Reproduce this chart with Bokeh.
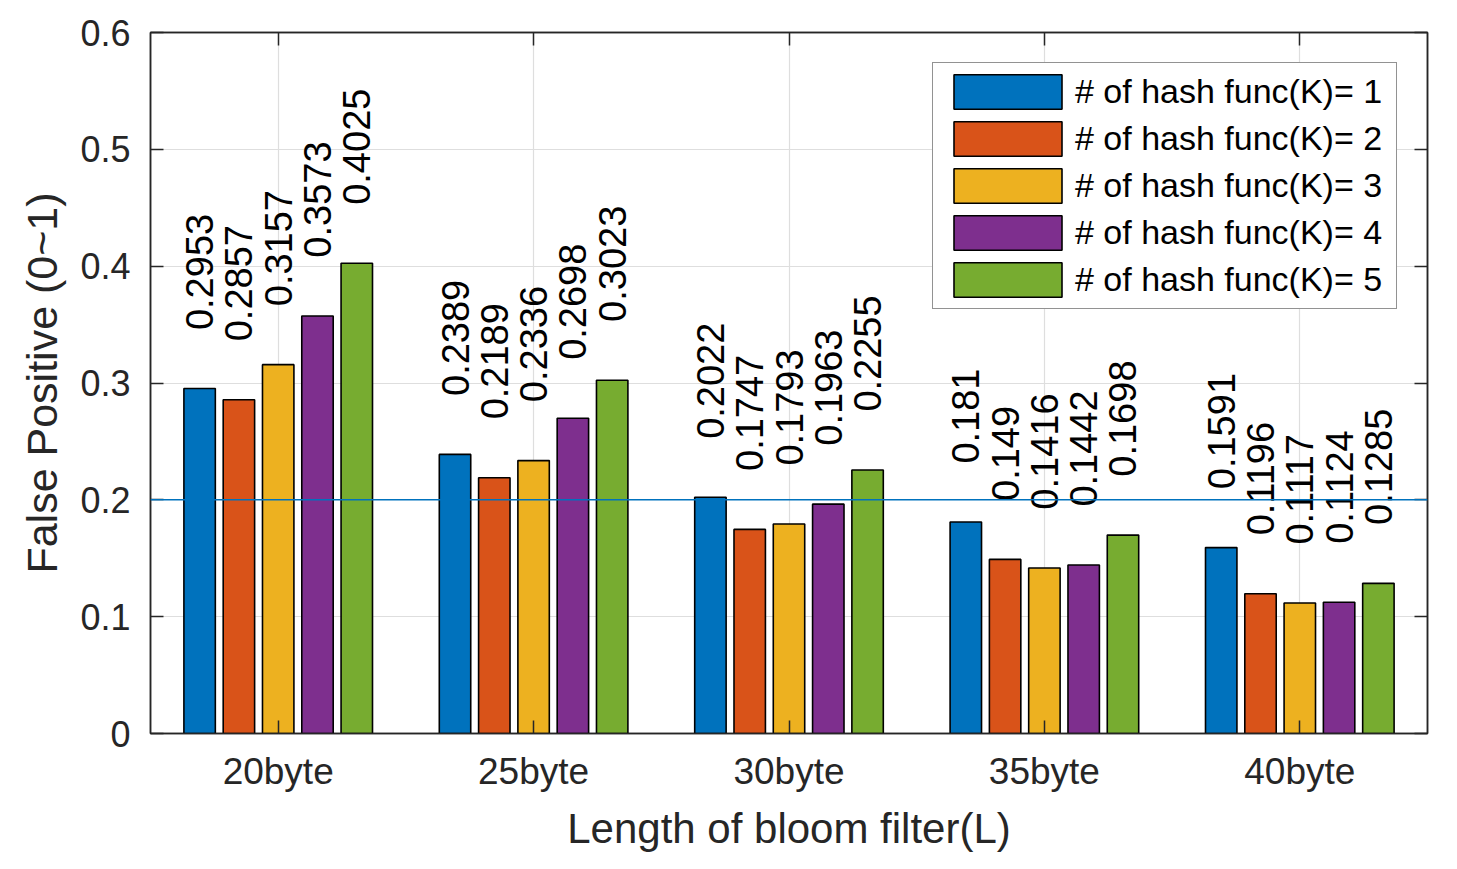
import math
from bokeh.plotting import figure
from bokeh.models import (ColumnDataSource, FixedTicker, LinearAxis, Span,
                          Legend, LegendItem, Range1d)
from bokeh.embed import file_html
from bokeh.resources import INLINE
from bokeh.core.properties import value

# ---------------- data ----------------
categories = ["20byte", "25byte", "30byte", "35byte", "40byte"]
series_labels = ["# of hash func(K)= 1", "# of hash func(K)= 2",
                 "# of hash func(K)= 3", "# of hash func(K)= 4",
                 "# of hash func(K)= 5"]
fp_k1 = [0.2953, 0.2389, 0.2022, 0.181, 0.1591]
fp_k2 = [0.2857, 0.2189, 0.1747, 0.149, 0.1196]
fp_k3 = [0.3157, 0.2336, 0.1793, 0.1416, 0.1117]
fp_k4 = [0.3573, 0.2698, 0.1963, 0.1442, 0.1124]
fp_k5 = [0.4025, 0.3023, 0.2255, 0.1698, 0.1285]
threshold = 0.2
y_ticks = [0, 0.1, 0.2, 0.3, 0.4, 0.5, 0.6]
y_tick_labels = ["0", "0.1", "0.2", "0.3", "0.4", "0.5", "0.6"]
x_ticks = [1, 2, 3, 4, 5]

series = [fp_k1, fp_k2, fp_k3, fp_k4, fp_k5]
colors = ["#0072BD", "#D95319", "#EDB120", "#7E2F8E", "#77AC30"]

FONT = "Liberation Sans"
AX = "#262626"

n = len(series)
group_w = min(0.8, n / (n + 1.5))
step = group_w / n
bar_w = step * 0.8
label_gap = 0.05

p = figure(width=1449, height=861, output_backend="svg", toolbar_location=None,
           x_range=Range1d(0.5, 5.5), y_range=Range1d(0, 0.6),
           min_border_left=150, min_border_top=32, min_border_right=22,
           min_border_bottom=128)
p.background_fill_color = "white"
p.border_fill_color = "white"
p.outline_line_color = AX
p.outline_line_width = 1.5

items = []
for k, vals in enumerate(series):
    xs = [x_ticks[i] + (k - (n - 1) / 2) * step for i in range(len(vals))]
    src = ColumnDataSource(dict(x=xs, top=vals,
                                ylab=[v + label_gap for v in vals],
                                txt=[str(v) for v in vals]))
    r = p.vbar(x="x", top="top", bottom=0, width=bar_w, source=src,
               fill_color=colors[k], line_color="black", line_width=1.6)
    p.text(x="x", y="ylab", text="txt", source=src, angle=math.pi / 2,
           text_align="left", text_baseline="middle",
           text_font=value(FONT), text_font_size="38px", text_color="black")
    items.append(LegendItem(label=series_labels[k], renderers=[r]))

p.add_layout(Span(location=threshold, dimension="width",
                  line_color="#0072BD", line_width=1.5))

legend = Legend(items=items, location="top_right", margin=30, padding=7,
                glyph_width=135, glyph_height=43, spacing=4,
                label_standoff=-4, label_width=314,
                label_text_font=FONT, label_text_font_size="34px",
                label_text_color="black",
                border_line_color=AX, border_line_width=1.5,
                background_fill_color="white", background_fill_alpha=1.0)
p.add_layout(legend)


def style_axis(ax):
    ax.axis_line_color = AX
    ax.axis_line_width = 1.5
    ax.major_tick_line_color = AX
    ax.major_tick_line_width = 1.5
    ax.major_tick_in = 13
    ax.major_tick_out = 0
    ax.minor_tick_line_color = None
    ax.major_label_text_font = FONT
    ax.major_label_text_color = AX
    ax.axis_label_text_font = FONT
    ax.axis_label_text_color = AX
    ax.axis_label_text_font_style = "normal"


# x axis (bottom)
xa = p.xaxis[0]
xa.ticker = FixedTicker(ticks=x_ticks)
xa.major_label_overrides = {t: c for t, c in zip(x_ticks, categories)}
style_axis(xa)
xa.major_label_text_font_size = "37px"
xa.major_label_standoff = 17
xa.axis_label = "Length of bloom filter(L)"
xa.axis_label_text_font_size = "42px"
xa.axis_label_standoff = 10

# y axis (left)
ya = p.yaxis[0]
ya.ticker = FixedTicker(ticks=y_ticks)
ya.major_label_overrides = {t: s for t, s in zip(y_ticks, y_tick_labels)}
style_axis(ya)
ya.major_label_text_font_size = "36px"
ya.major_label_standoff = 20
ya.axis_label = "False Positive (0~1)"
ya.axis_label_text_font_size = "43px"
ya.axis_label_standoff = 11

# mirrored axes (top / right) with inward ticks only
top_ax = LinearAxis(ticker=FixedTicker(ticks=x_ticks),
                    major_label_overrides={t: "" for t in x_ticks})
style_axis(top_ax)
top_ax.major_label_standoff = 0
p.add_layout(top_ax, "above")
right_ax = LinearAxis(ticker=FixedTicker(ticks=y_ticks),
                      major_label_overrides={t: "" for t in y_ticks})
style_axis(right_ax)
right_ax.major_label_standoff = 0
p.add_layout(right_ax, "right")

p.xgrid.ticker = FixedTicker(ticks=x_ticks)
p.ygrid.ticker = FixedTicker(ticks=y_ticks)
for g in (p.xgrid[0], p.ygrid[0]):
    g.grid_line_color = "#dedede"
    g.grid_line_width = 1.2

open("out.html", "w").write(file_html(p, INLINE))
